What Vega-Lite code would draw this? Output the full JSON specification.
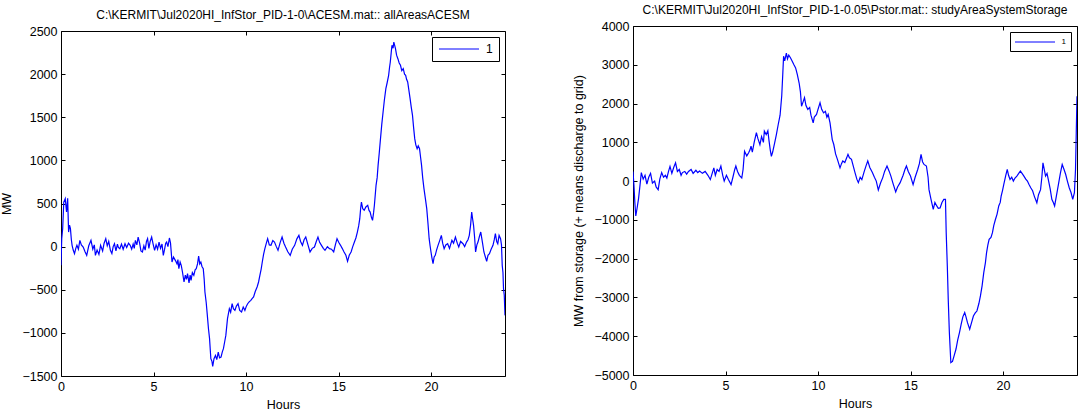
{
  "$schema": "https://vega.github.io/schema/vega-lite/v6.json",
  "padding": {"left": 0, "top": 3, "right": 0, "bottom": 0},
  "background": "white",
  "config": {
    "font": "Liberation Sans",
    "view": {"stroke": null},
    "axis": {"grid": false, "format": "d", "domainColor": "#000", "domainWidth": 1, "tickColor": "#000", "tickSize": -4, "tickWidth": 1, "labelPadding": 8, "labelFont": "Liberation Sans", "labelFontSize": 12.5, "labelColor": "#000", "labelFlush": false, "labelOverlap": false, "titleFont": "Liberation Sans", "titleFontSize": 12.5, "titleFontWeight": "normal", "titleColor": "#000"},
    "axisX": {"titlePadding": 6},
    "axisY": {"titlePadding": 8},
    "title": {"font": "Liberation Sans", "fontSize": 12, "fontWeight": "normal", "color": "#000", "offset": 3},
    "legend": {"orient": "top-right", "offset": 6, "title": null, "strokeColor": "#000", "fillColor": "white", "cornerRadius": 0, "labelFont": "Liberation Sans", "labelColor": "#000", "symbolStrokeWidth": 1, "symbolStrokeColor": "#0000ff"}
  },
  "datasets": {
    "left": [
      {"t":0,"v":-217,"s":"1"},{"t":0.04,"v":92,"s":"1"},{"t":0.09,"v":208,"s":"1"},{"t":0.15,"v":517,"s":"1"},{"t":0.23,"v":556,"s":"1"},{"t":0.3,"v":401,"s":"1"},{"t":0.36,"v":560,"s":"1"},{"t":0.41,"v":169,"s":"1"},{"t":0.46,"v":250,"s":"1"},{"t":0.51,"v":208,"s":"1"},{"t":0.56,"v":80,"s":"1"},{"t":0.6,"v":15,"s":"1"},{"t":0.66,"v":-40,"s":"1"},{"t":0.73,"v":-82,"s":"1"},{"t":0.8,"v":-20,"s":"1"},{"t":0.86,"v":15,"s":"1"},{"t":0.94,"v":-30,"s":"1"},{"t":1.02,"v":73,"s":"1"},{"t":1.1,"v":20,"s":"1"},{"t":1.2,"v":-5,"s":"1"},{"t":1.3,"v":-60,"s":"1"},{"t":1.39,"v":-101,"s":"1"},{"t":1.5,"v":10,"s":"1"},{"t":1.62,"v":73,"s":"1"},{"t":1.72,"v":-30,"s":"1"},{"t":1.8,"v":20,"s":"1"},{"t":1.86,"v":-101,"s":"1"},{"t":1.95,"v":-40,"s":"1"},{"t":2.05,"v":-90,"s":"1"},{"t":2.14,"v":15,"s":"1"},{"t":2.25,"v":-50,"s":"1"},{"t":2.33,"v":40,"s":"1"},{"t":2.42,"v":92,"s":"1"},{"t":2.5,"v":10,"s":"1"},{"t":2.58,"v":60,"s":"1"},{"t":2.67,"v":-43,"s":"1"},{"t":2.75,"v":-80,"s":"1"},{"t":2.82,"v":0,"s":"1"},{"t":2.89,"v":34,"s":"1"},{"t":2.97,"v":-50,"s":"1"},{"t":3.05,"v":30,"s":"1"},{"t":3.1,"v":-10,"s":"1"},{"t":3.18,"v":-24,"s":"1"},{"t":3.27,"v":30,"s":"1"},{"t":3.36,"v":-30,"s":"1"},{"t":3.46,"v":34,"s":"1"},{"t":3.55,"v":-10,"s":"1"},{"t":3.65,"v":40,"s":"1"},{"t":3.74,"v":15,"s":"1"},{"t":3.82,"v":-30,"s":"1"},{"t":3.9,"v":30,"s":"1"},{"t":3.96,"v":-20,"s":"1"},{"t":4.02,"v":73,"s":"1"},{"t":4.1,"v":20,"s":"1"},{"t":4.17,"v":111,"s":"1"},{"t":4.25,"v":40,"s":"1"},{"t":4.32,"v":-50,"s":"1"},{"t":4.4,"v":-62,"s":"1"},{"t":4.48,"v":10,"s":"1"},{"t":4.55,"v":-40,"s":"1"},{"t":4.62,"v":60,"s":"1"},{"t":4.68,"v":92,"s":"1"},{"t":4.75,"v":-20,"s":"1"},{"t":4.82,"v":60,"s":"1"},{"t":4.9,"v":111,"s":"1"},{"t":4.98,"v":30,"s":"1"},{"t":5.06,"v":-43,"s":"1"},{"t":5.14,"v":20,"s":"1"},{"t":5.22,"v":-30,"s":"1"},{"t":5.3,"v":53,"s":"1"},{"t":5.38,"v":-20,"s":"1"},{"t":5.46,"v":30,"s":"1"},{"t":5.53,"v":-101,"s":"1"},{"t":5.6,"v":-30,"s":"1"},{"t":5.66,"v":40,"s":"1"},{"t":5.71,"v":53,"s":"1"},{"t":5.78,"v":0,"s":"1"},{"t":5.86,"v":100,"s":"1"},{"t":5.92,"v":40,"s":"1"},{"t":6.0,"v":-178,"s":"1"},{"t":6.08,"v":-120,"s":"1"},{"t":6.18,"v":-159,"s":"1"},{"t":6.27,"v":-200,"s":"1"},{"t":6.32,"v":-150,"s":"1"},{"t":6.37,"v":-256,"s":"1"},{"t":6.44,"v":-180,"s":"1"},{"t":6.5,"v":-217,"s":"1"},{"t":6.57,"v":-300,"s":"1"},{"t":6.65,"v":-410,"s":"1"},{"t":6.72,"v":-330,"s":"1"},{"t":6.78,"v":-380,"s":"1"},{"t":6.84,"v":-314,"s":"1"},{"t":6.92,"v":-420,"s":"1"},{"t":6.98,"v":-330,"s":"1"},{"t":7.03,"v":-391,"s":"1"},{"t":7.1,"v":-300,"s":"1"},{"t":7.18,"v":-333,"s":"1"},{"t":7.25,"v":-270,"s":"1"},{"t":7.31,"v":-256,"s":"1"},{"t":7.38,"v":-200,"s":"1"},{"t":7.44,"v":-110,"s":"1"},{"t":7.5,"v":-200,"s":"1"},{"t":7.56,"v":-178,"s":"1"},{"t":7.62,"v":-230,"s":"1"},{"t":7.69,"v":-256,"s":"1"},{"t":7.74,"v":-380,"s":"1"},{"t":7.78,"v":-526,"s":"1"},{"t":7.85,"v":-650,"s":"1"},{"t":7.91,"v":-797,"s":"1"},{"t":7.97,"v":-950,"s":"1"},{"t":8.03,"v":-1067,"s":"1"},{"t":8.1,"v":-1299,"s":"1"},{"t":8.16,"v":-1330,"s":"1"},{"t":8.2,"v":-1390,"s":"1"},{"t":8.27,"v":-1300,"s":"1"},{"t":8.35,"v":-1261,"s":"1"},{"t":8.42,"v":-1310,"s":"1"},{"t":8.5,"v":-1222,"s":"1"},{"t":8.57,"v":-1290,"s":"1"},{"t":8.65,"v":-1280,"s":"1"},{"t":8.72,"v":-1220,"s":"1"},{"t":8.78,"v":-1183,"s":"1"},{"t":8.85,"v":-1100,"s":"1"},{"t":8.91,"v":-1029,"s":"1"},{"t":9.0,"v":-835,"s":"1"},{"t":9.1,"v":-720,"s":"1"},{"t":9.17,"v":-760,"s":"1"},{"t":9.25,"v":-662,"s":"1"},{"t":9.32,"v":-720,"s":"1"},{"t":9.4,"v":-739,"s":"1"},{"t":9.48,"v":-690,"s":"1"},{"t":9.57,"v":-662,"s":"1"},{"t":9.66,"v":-740,"s":"1"},{"t":9.76,"v":-758,"s":"1"},{"t":9.85,"v":-700,"s":"1"},{"t":9.94,"v":-739,"s":"1"},{"t":10.02,"v":-690,"s":"1"},{"t":10.09,"v":-662,"s":"1"},{"t":10.17,"v":-640,"s":"1"},{"t":10.26,"v":-623,"s":"1"},{"t":10.34,"v":-600,"s":"1"},{"t":10.41,"v":-584,"s":"1"},{"t":10.5,"v":-520,"s":"1"},{"t":10.6,"v":-468,"s":"1"},{"t":10.68,"v":-410,"s":"1"},{"t":10.75,"v":-333,"s":"1"},{"t":10.82,"v":-260,"s":"1"},{"t":10.88,"v":-178,"s":"1"},{"t":10.95,"v":-90,"s":"1"},{"t":11.02,"v":-24,"s":"1"},{"t":11.1,"v":40,"s":"1"},{"t":11.17,"v":92,"s":"1"},{"t":11.26,"v":20,"s":"1"},{"t":11.35,"v":15,"s":"1"},{"t":11.45,"v":70,"s":"1"},{"t":11.54,"v":53,"s":"1"},{"t":11.64,"v":0,"s":"1"},{"t":11.73,"v":-43,"s":"1"},{"t":11.85,"v":50,"s":"1"},{"t":11.95,"v":111,"s":"1"},{"t":12.05,"v":40,"s":"1"},{"t":12.14,"v":-5,"s":"1"},{"t":12.26,"v":-60,"s":"1"},{"t":12.39,"v":-101,"s":"1"},{"t":12.5,"v":-30,"s":"1"},{"t":12.63,"v":15,"s":"1"},{"t":12.75,"v":90,"s":"1"},{"t":12.86,"v":131,"s":"1"},{"t":12.95,"v":60,"s":"1"},{"t":13.05,"v":15,"s":"1"},{"t":13.14,"v":80,"s":"1"},{"t":13.23,"v":111,"s":"1"},{"t":13.35,"v":20,"s":"1"},{"t":13.46,"v":-62,"s":"1"},{"t":13.58,"v":-20,"s":"1"},{"t":13.7,"v":-5,"s":"1"},{"t":13.8,"v":60,"s":"1"},{"t":13.89,"v":111,"s":"1"},{"t":13.98,"v":50,"s":"1"},{"t":14.08,"v":15,"s":"1"},{"t":14.18,"v":-20,"s":"1"},{"t":14.27,"v":-43,"s":"1"},{"t":14.4,"v":0,"s":"1"},{"t":14.51,"v":-24,"s":"1"},{"t":14.62,"v":-30,"s":"1"},{"t":14.74,"v":-62,"s":"1"},{"t":14.83,"v":20,"s":"1"},{"t":14.92,"v":92,"s":"1"},{"t":15.01,"v":50,"s":"1"},{"t":15.11,"v":15,"s":"1"},{"t":15.2,"v":-20,"s":"1"},{"t":15.3,"v":-62,"s":"1"},{"t":15.4,"v":-100,"s":"1"},{"t":15.49,"v":-170,"s":"1"},{"t":15.58,"v":-100,"s":"1"},{"t":15.68,"v":-62,"s":"1"},{"t":15.77,"v":0,"s":"1"},{"t":15.86,"v":53,"s":"1"},{"t":15.94,"v":100,"s":"1"},{"t":16.02,"v":169,"s":"1"},{"t":16.09,"v":240,"s":"1"},{"t":16.15,"v":324,"s":"1"},{"t":16.2,"v":450,"s":"1"},{"t":16.24,"v":517,"s":"1"},{"t":16.31,"v":440,"s":"1"},{"t":16.39,"v":421,"s":"1"},{"t":16.48,"v":460,"s":"1"},{"t":16.58,"v":479,"s":"1"},{"t":16.65,"v":420,"s":"1"},{"t":16.71,"v":401,"s":"1"},{"t":16.78,"v":340,"s":"1"},{"t":16.84,"v":305,"s":"1"},{"t":16.9,"v":400,"s":"1"},{"t":16.94,"v":479,"s":"1"},{"t":17.03,"v":711,"s":"1"},{"t":17.09,"v":800,"s":"1"},{"t":17.14,"v":942,"s":"1"},{"t":17.2,"v":1080,"s":"1"},{"t":17.27,"v":1252,"s":"1"},{"t":17.34,"v":1420,"s":"1"},{"t":17.41,"v":1561,"s":"1"},{"t":17.48,"v":1700,"s":"1"},{"t":17.56,"v":1831,"s":"1"},{"t":17.63,"v":1900,"s":"1"},{"t":17.71,"v":1986,"s":"1"},{"t":17.76,"v":2080,"s":"1"},{"t":17.8,"v":2141,"s":"1"},{"t":17.85,"v":2250,"s":"1"},{"t":17.89,"v":2334,"s":"1"},{"t":17.95,"v":2300,"s":"1"},{"t":17.99,"v":2372,"s":"1"},{"t":18.04,"v":2330,"s":"1"},{"t":18.08,"v":2295,"s":"1"},{"t":18.14,"v":2220,"s":"1"},{"t":18.21,"v":2179,"s":"1"},{"t":18.28,"v":2130,"s":"1"},{"t":18.35,"v":2102,"s":"1"},{"t":18.42,"v":2040,"s":"1"},{"t":18.5,"v":2063,"s":"1"},{"t":18.57,"v":2000,"s":"1"},{"t":18.63,"v":1986,"s":"1"},{"t":18.68,"v":1940,"s":"1"},{"t":18.74,"v":1909,"s":"1"},{"t":18.8,"v":1820,"s":"1"},{"t":18.87,"v":1715,"s":"1"},{"t":18.93,"v":1620,"s":"1"},{"t":19.0,"v":1522,"s":"1"},{"t":19.06,"v":1380,"s":"1"},{"t":19.12,"v":1252,"s":"1"},{"t":19.18,"v":1180,"s":"1"},{"t":19.25,"v":1136,"s":"1"},{"t":19.31,"v":1170,"s":"1"},{"t":19.38,"v":1136,"s":"1"},{"t":19.44,"v":1030,"s":"1"},{"t":19.49,"v":942,"s":"1"},{"t":19.55,"v":800,"s":"1"},{"t":19.62,"v":672,"s":"1"},{"t":19.7,"v":550,"s":"1"},{"t":19.77,"v":440,"s":"1"},{"t":19.84,"v":260,"s":"1"},{"t":19.9,"v":92,"s":"1"},{"t":19.95,"v":10,"s":"1"},{"t":20.0,"v":-62,"s":"1"},{"t":20.05,"v":-130,"s":"1"},{"t":20.11,"v":-198,"s":"1"},{"t":20.17,"v":-120,"s":"1"},{"t":20.23,"v":-101,"s":"1"},{"t":20.3,"v":-40,"s":"1"},{"t":20.38,"v":15,"s":"1"},{"t":20.47,"v":70,"s":"1"},{"t":20.56,"v":131,"s":"1"},{"t":20.63,"v":40,"s":"1"},{"t":20.71,"v":-24,"s":"1"},{"t":20.8,"v":20,"s":"1"},{"t":20.9,"v":34,"s":"1"},{"t":21.0,"v":-20,"s":"1"},{"t":21.13,"v":73,"s":"1"},{"t":21.22,"v":40,"s":"1"},{"t":21.32,"v":111,"s":"1"},{"t":21.42,"v":40,"s":"1"},{"t":21.5,"v":-5,"s":"1"},{"t":21.6,"v":60,"s":"1"},{"t":21.73,"v":34,"s":"1"},{"t":21.82,"v":0,"s":"1"},{"t":21.92,"v":53,"s":"1"},{"t":22.0,"v":80,"s":"1"},{"t":22.07,"v":131,"s":"1"},{"t":22.14,"v":250,"s":"1"},{"t":22.2,"v":401,"s":"1"},{"t":22.25,"v":320,"s":"1"},{"t":22.3,"v":247,"s":"1"},{"t":22.36,"v":100,"s":"1"},{"t":22.41,"v":-62,"s":"1"},{"t":22.48,"v":20,"s":"1"},{"t":22.54,"v":53,"s":"1"},{"t":22.62,"v":120,"s":"1"},{"t":22.69,"v":169,"s":"1"},{"t":22.78,"v":50,"s":"1"},{"t":22.86,"v":-62,"s":"1"},{"t":22.94,"v":-120,"s":"1"},{"t":23.01,"v":-170,"s":"1"},{"t":23.08,"v":-100,"s":"1"},{"t":23.16,"v":-82,"s":"1"},{"t":23.25,"v":-30,"s":"1"},{"t":23.35,"v":15,"s":"1"},{"t":23.42,"v":80,"s":"1"},{"t":23.48,"v":150,"s":"1"},{"t":23.55,"v":60,"s":"1"},{"t":23.61,"v":34,"s":"1"},{"t":23.68,"v":130,"s":"1"},{"t":23.76,"v":92,"s":"1"},{"t":23.81,"v":20,"s":"1"},{"t":23.85,"v":-217,"s":"1"},{"t":23.89,"v":-300,"s":"1"},{"t":23.92,"v":-488,"s":"1"},{"t":23.96,"v":-560,"s":"1"},{"t":24.0,"v":-797,"s":"1"}
    ],
    "right": [
      {"t":0,"v":250,"s":"1"},{"t":0.05,"v":-100,"s":"1"},{"t":0.1,"v":-550,"s":"1"},{"t":0.15,"v":-900,"s":"1"},{"t":0.22,"v":-700,"s":"1"},{"t":0.3,"v":-450,"s":"1"},{"t":0.38,"v":-100,"s":"1"},{"t":0.45,"v":220,"s":"1"},{"t":0.55,"v":50,"s":"1"},{"t":0.65,"v":150,"s":"1"},{"t":0.75,"v":-80,"s":"1"},{"t":0.85,"v":100,"s":"1"},{"t":0.95,"v":200,"s":"1"},{"t":1.05,"v":-50,"s":"1"},{"t":1.17,"v":0,"s":"1"},{"t":1.25,"v":-150,"s":"1"},{"t":1.36,"v":-220,"s":"1"},{"t":1.45,"v":50,"s":"1"},{"t":1.55,"v":220,"s":"1"},{"t":1.65,"v":100,"s":"1"},{"t":1.75,"v":150,"s":"1"},{"t":1.83,"v":80,"s":"1"},{"t":1.92,"v":250,"s":"1"},{"t":2.0,"v":380,"s":"1"},{"t":2.1,"v":200,"s":"1"},{"t":2.2,"v":350,"s":"1"},{"t":2.3,"v":470,"s":"1"},{"t":2.4,"v":250,"s":"1"},{"t":2.5,"v":300,"s":"1"},{"t":2.6,"v":150,"s":"1"},{"t":2.67,"v":220,"s":"1"},{"t":2.8,"v":250,"s":"1"},{"t":2.9,"v":180,"s":"1"},{"t":3.0,"v":250,"s":"1"},{"t":3.14,"v":300,"s":"1"},{"t":3.25,"v":200,"s":"1"},{"t":3.4,"v":280,"s":"1"},{"t":3.5,"v":220,"s":"1"},{"t":3.6,"v":260,"s":"1"},{"t":3.75,"v":200,"s":"1"},{"t":3.9,"v":250,"s":"1"},{"t":4.05,"v":150,"s":"1"},{"t":4.18,"v":40,"s":"1"},{"t":4.28,"v":200,"s":"1"},{"t":4.37,"v":340,"s":"1"},{"t":4.45,"v":150,"s":"1"},{"t":4.55,"v":300,"s":"1"},{"t":4.65,"v":250,"s":"1"},{"t":4.75,"v":390,"s":"1"},{"t":4.85,"v":150,"s":"1"},{"t":4.93,"v":0,"s":"1"},{"t":5.05,"v":150,"s":"1"},{"t":5.15,"v":50,"s":"1"},{"t":5.3,"v":-90,"s":"1"},{"t":5.4,"v":100,"s":"1"},{"t":5.5,"v":300,"s":"1"},{"t":5.56,"v":390,"s":"1"},{"t":5.65,"v":250,"s":"1"},{"t":5.75,"v":150,"s":"1"},{"t":5.88,"v":80,"s":"1"},{"t":5.95,"v":300,"s":"1"},{"t":6.03,"v":770,"s":"1"},{"t":6.15,"v":650,"s":"1"},{"t":6.25,"v":730,"s":"1"},{"t":6.32,"v":800,"s":"1"},{"t":6.38,"v":900,"s":"1"},{"t":6.45,"v":750,"s":"1"},{"t":6.55,"v":1000,"s":"1"},{"t":6.67,"v":1250,"s":"1"},{"t":6.75,"v":1100,"s":"1"},{"t":6.86,"v":940,"s":"1"},{"t":6.95,"v":1150,"s":"1"},{"t":7.05,"v":1000,"s":"1"},{"t":7.1,"v":1290,"s":"1"},{"t":7.2,"v":1200,"s":"1"},{"t":7.29,"v":1300,"s":"1"},{"t":7.35,"v":1050,"s":"1"},{"t":7.42,"v":800,"s":"1"},{"t":7.48,"v":640,"s":"1"},{"t":7.55,"v":750,"s":"1"},{"t":7.66,"v":990,"s":"1"},{"t":7.75,"v":1200,"s":"1"},{"t":7.85,"v":1460,"s":"1"},{"t":7.95,"v":1700,"s":"1"},{"t":8.04,"v":2200,"s":"1"},{"t":8.1,"v":2800,"s":"1"},{"t":8.14,"v":3220,"s":"1"},{"t":8.2,"v":3100,"s":"1"},{"t":8.29,"v":3300,"s":"1"},{"t":8.35,"v":3150,"s":"1"},{"t":8.42,"v":3250,"s":"1"},{"t":8.51,"v":3180,"s":"1"},{"t":8.6,"v":3100,"s":"1"},{"t":8.7,"v":3000,"s":"1"},{"t":8.79,"v":2920,"s":"1"},{"t":8.88,"v":2750,"s":"1"},{"t":8.98,"v":2530,"s":"1"},{"t":9.05,"v":2300,"s":"1"},{"t":9.11,"v":1930,"s":"1"},{"t":9.2,"v":2050,"s":"1"},{"t":9.27,"v":2150,"s":"1"},{"t":9.35,"v":1950,"s":"1"},{"t":9.45,"v":1850,"s":"1"},{"t":9.55,"v":1900,"s":"1"},{"t":9.62,"v":1700,"s":"1"},{"t":9.74,"v":1500,"s":"1"},{"t":9.8,"v":1650,"s":"1"},{"t":9.92,"v":1720,"s":"1"},{"t":10.0,"v":1850,"s":"1"},{"t":10.11,"v":2020,"s":"1"},{"t":10.2,"v":1850,"s":"1"},{"t":10.3,"v":1760,"s":"1"},{"t":10.4,"v":1800,"s":"1"},{"t":10.48,"v":1650,"s":"1"},{"t":10.55,"v":1720,"s":"1"},{"t":10.65,"v":1500,"s":"1"},{"t":10.77,"v":1070,"s":"1"},{"t":10.85,"v":950,"s":"1"},{"t":10.95,"v":700,"s":"1"},{"t":11.05,"v":560,"s":"1"},{"t":11.12,"v":450,"s":"1"},{"t":11.19,"v":340,"s":"1"},{"t":11.27,"v":450,"s":"1"},{"t":11.34,"v":520,"s":"1"},{"t":11.45,"v":480,"s":"1"},{"t":11.55,"v":600,"s":"1"},{"t":11.62,"v":690,"s":"1"},{"t":11.7,"v":600,"s":"1"},{"t":11.81,"v":560,"s":"1"},{"t":11.9,"v":400,"s":"1"},{"t":12.0,"v":220,"s":"1"},{"t":12.1,"v":50,"s":"1"},{"t":12.18,"v":-40,"s":"1"},{"t":12.28,"v":100,"s":"1"},{"t":12.37,"v":40,"s":"1"},{"t":12.5,"v":250,"s":"1"},{"t":12.6,"v":400,"s":"1"},{"t":12.69,"v":520,"s":"1"},{"t":12.8,"v":350,"s":"1"},{"t":12.94,"v":220,"s":"1"},{"t":13.05,"v":100,"s":"1"},{"t":13.15,"v":0,"s":"1"},{"t":13.26,"v":-230,"s":"1"},{"t":13.38,"v":-50,"s":"1"},{"t":13.5,"v":90,"s":"1"},{"t":13.6,"v":250,"s":"1"},{"t":13.73,"v":390,"s":"1"},{"t":13.85,"v":250,"s":"1"},{"t":13.94,"v":130,"s":"1"},{"t":14.05,"v":-50,"s":"1"},{"t":14.2,"v":-280,"s":"1"},{"t":14.3,"v":-150,"s":"1"},{"t":14.44,"v":-40,"s":"1"},{"t":14.6,"v":150,"s":"1"},{"t":14.7,"v":300,"s":"1"},{"t":14.78,"v":390,"s":"1"},{"t":14.88,"v":250,"s":"1"},{"t":15.0,"v":130,"s":"1"},{"t":15.14,"v":-90,"s":"1"},{"t":15.25,"v":100,"s":"1"},{"t":15.39,"v":300,"s":"1"},{"t":15.48,"v":450,"s":"1"},{"t":15.57,"v":690,"s":"1"},{"t":15.65,"v":500,"s":"1"},{"t":15.73,"v":430,"s":"1"},{"t":15.86,"v":390,"s":"1"},{"t":15.95,"v":100,"s":"1"},{"t":16.0,"v":-220,"s":"1"},{"t":16.1,"v":-450,"s":"1"},{"t":16.23,"v":-730,"s":"1"},{"t":16.32,"v":-550,"s":"1"},{"t":16.42,"v":-640,"s":"1"},{"t":16.5,"v":-700,"s":"1"},{"t":16.6,"v":-690,"s":"1"},{"t":16.7,"v":-550,"s":"1"},{"t":16.8,"v":-470,"s":"1"},{"t":16.89,"v":-470,"s":"1"},{"t":16.93,"v":-1330,"s":"1"},{"t":16.99,"v":-2190,"s":"1"},{"t":17.04,"v":-3050,"s":"1"},{"t":17.1,"v":-3900,"s":"1"},{"t":17.18,"v":-4680,"s":"1"},{"t":17.27,"v":-4650,"s":"1"},{"t":17.36,"v":-4500,"s":"1"},{"t":17.46,"v":-4330,"s":"1"},{"t":17.55,"v":-4100,"s":"1"},{"t":17.65,"v":-3900,"s":"1"},{"t":17.74,"v":-3690,"s":"1"},{"t":17.83,"v":-3500,"s":"1"},{"t":17.93,"v":-3390,"s":"1"},{"t":18.0,"v":-3500,"s":"1"},{"t":18.08,"v":-3650,"s":"1"},{"t":18.2,"v":-3820,"s":"1"},{"t":18.3,"v":-3650,"s":"1"},{"t":18.4,"v":-3480,"s":"1"},{"t":18.5,"v":-3400,"s":"1"},{"t":18.59,"v":-3350,"s":"1"},{"t":18.7,"v":-3150,"s":"1"},{"t":18.78,"v":-2960,"s":"1"},{"t":18.87,"v":-2700,"s":"1"},{"t":18.96,"v":-2360,"s":"1"},{"t":19.05,"v":-2100,"s":"1"},{"t":19.11,"v":-1850,"s":"1"},{"t":19.18,"v":-1650,"s":"1"},{"t":19.25,"v":-1500,"s":"1"},{"t":19.35,"v":-1450,"s":"1"},{"t":19.43,"v":-1330,"s":"1"},{"t":19.5,"v":-1150,"s":"1"},{"t":19.59,"v":-990,"s":"1"},{"t":19.68,"v":-850,"s":"1"},{"t":19.77,"v":-640,"s":"1"},{"t":19.85,"v":-550,"s":"1"},{"t":19.9,"v":-390,"s":"1"},{"t":19.97,"v":-250,"s":"1"},{"t":20.04,"v":-90,"s":"1"},{"t":20.15,"v":150,"s":"1"},{"t":20.23,"v":300,"s":"1"},{"t":20.3,"v":150,"s":"1"},{"t":20.38,"v":40,"s":"1"},{"t":20.47,"v":100,"s":"1"},{"t":20.56,"v":0,"s":"1"},{"t":20.65,"v":80,"s":"1"},{"t":20.75,"v":130,"s":"1"},{"t":20.85,"v":200,"s":"1"},{"t":20.94,"v":260,"s":"1"},{"t":21.03,"v":200,"s":"1"},{"t":21.13,"v":130,"s":"1"},{"t":21.23,"v":50,"s":"1"},{"t":21.32,"v":0,"s":"1"},{"t":21.4,"v":-80,"s":"1"},{"t":21.5,"v":-170,"s":"1"},{"t":21.6,"v":-250,"s":"1"},{"t":21.7,"v":-400,"s":"1"},{"t":21.83,"v":-560,"s":"1"},{"t":21.92,"v":-350,"s":"1"},{"t":22.03,"v":-220,"s":"1"},{"t":22.1,"v":100,"s":"1"},{"t":22.16,"v":470,"s":"1"},{"t":22.23,"v":300,"s":"1"},{"t":22.3,"v":130,"s":"1"},{"t":22.38,"v":200,"s":"1"},{"t":22.45,"v":40,"s":"1"},{"t":22.55,"v":-200,"s":"1"},{"t":22.64,"v":-470,"s":"1"},{"t":22.72,"v":-550,"s":"1"},{"t":22.79,"v":-640,"s":"1"},{"t":22.88,"v":-400,"s":"1"},{"t":22.98,"v":-130,"s":"1"},{"t":23.1,"v":200,"s":"1"},{"t":23.2,"v":430,"s":"1"},{"t":23.3,"v":300,"s":"1"},{"t":23.39,"v":170,"s":"1"},{"t":23.48,"v":0,"s":"1"},{"t":23.58,"v":-170,"s":"1"},{"t":23.68,"v":-300,"s":"1"},{"t":23.77,"v":-470,"s":"1"},{"t":23.86,"v":-300,"s":"1"},{"t":23.92,"v":300,"s":"1"},{"t":23.96,"v":1250,"s":"1"},{"t":24.0,"v":2190,"s":"1"}
    ]
  },
  "hconcat": [
    {
      "vconcat": [
        {"width": 10, "height": 6, "data": {"values": []}, "mark": "point", "encoding": {}},
        {
          "width": 444, "height": 345,
          "data": {"name": "left"},
          "title": {"text": "C:\\KERMIT\\Jul2020HI_InfStor_PID-1-0\\ACESM.mat:: allAreasACESM"},
          "layer": [
            {
              "mark": {"type": "line", "strokeWidth": 1.2, "clip": true},
              "encoding": {
                "x": {"field": "t", "type": "quantitative", "scale": {"domain": [0, 24], "nice": false, "zero": false}, "axis": {"title": "Hours", "values": [0, 5, 10, 15, 20]}},
                "y": {"field": "v", "type": "quantitative", "scale": {"domain": [-1500, 2500], "nice": false, "zero": false}, "axis": {"title": "MW", "values": [-1500, -1000, -500, 0, 500, 1000, 1500, 2000, 2500]}},
                "color": {"field": "s", "type": "nominal", "scale": {"range": ["#0000ff"]}, "legend": {"padding": 6, "labelFontSize": 12, "symbolType": "M-1,0H7", "symbolSize": 100, "labelOffset": 36, "symbolStrokeColor": "#0000ff"}}
              }
            },
            {
              "mark": {"type": "line", "opacity": 0},
              "encoding": {
                "x": {"field": "t", "type": "quantitative", "axis": {"orient": "top", "labels": false, "title": null, "values": [0, 5, 10, 15, 20]}},
                "y": {"field": "v", "type": "quantitative", "axis": {"orient": "right", "labels": false, "title": null, "values": [-1500, -1000, -500, 0, 500, 1000, 1500, 2000, 2500]}}
              }
            }
          ],
          "resolve": {"axis": {"x": "independent", "y": "independent"}}
        }
      ],
      "spacing": 0,
      "resolve": {"scale": {"color": "independent"}, "legend": {"color": "independent"}}
    },
    {
      "vconcat": [
        {"width": 10, "height": 1, "data": {"values": []}, "mark": "point", "encoding": {}},
        {
          "width": 444, "height": 349,
          "data": {"name": "right"},
          "title": {"text": "C:\\KERMIT\\Jul2020HI_InfStor_PID-1-0.05\\Pstor.mat:: studyAreaSystemStorage"},
          "layer": [
            {
              "mark": {"type": "line", "strokeWidth": 1.2, "clip": true},
              "encoding": {
                "x": {"field": "t", "type": "quantitative", "scale": {"domain": [0, 24], "nice": false, "zero": false}, "axis": {"title": "Hours", "values": [0, 5, 10, 15, 20]}},
                "y": {"field": "v", "type": "quantitative", "scale": {"domain": [-5000, 4000], "nice": false, "zero": false}, "axis": {"title": "MW from storage (+ means discharge to grid)", "values": [-5000, -4000, -3000, -2000, -1000, 0, 1000, 2000, 3000, 4000]}},
                "color": {"field": "s", "type": "nominal", "scale": {"range": ["#0000ff"]}, "legend": {"padding": 4.5, "labelFontSize": 8, "symbolType": "M-1,0H7", "symbolSize": 100, "labelOffset": 36, "symbolStrokeColor": "#0000ff"}}
              }
            },
            {
              "mark": {"type": "line", "opacity": 0},
              "encoding": {
                "x": {"field": "t", "type": "quantitative", "axis": {"orient": "top", "labels": false, "title": null, "values": [0, 5, 10, 15, 20]}},
                "y": {"field": "v", "type": "quantitative", "axis": {"orient": "right", "labels": false, "title": null, "values": [-5000, -4000, -3000, -2000, -1000, 0, 1000, 2000, 3000, 4000]}}
              }
            }
          ],
          "resolve": {"axis": {"x": "independent", "y": "independent"}}
        }
      ],
      "spacing": 0,
      "resolve": {"scale": {"color": "independent"}, "legend": {"color": "independent"}}
    }
  ],
  "spacing": 66,
  "resolve": {"scale": {"color": "independent"}, "legend": {"color": "independent"}}
}
